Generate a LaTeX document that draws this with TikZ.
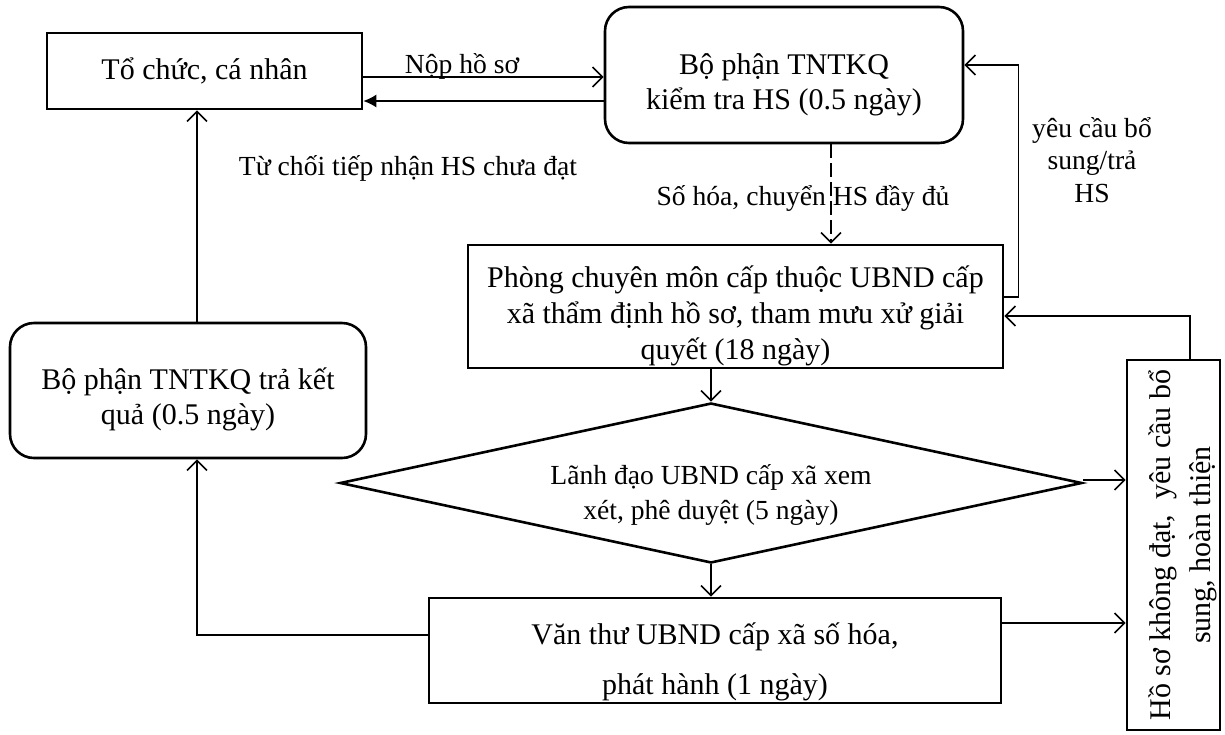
\documentclass[tikz,border=0pt]{standalone}
\usepackage{fontspec}
\setmainfont{Liberation Serif}
\usetikzlibrary{shapes.geometric,arrows.meta}
\begin{document}
\begin{tikzpicture}[x=0.5pt,y=-0.5pt,
  box/.style={draw, line width=1.3pt, inner sep=0pt},
  rbox/.style={box, rounded corners=12pt},
  txt/.style={align=center, inner sep=0pt, font=\fontsize{15}{17.5}\selectfont},
  lbl/.style={align=center, inner sep=0pt, font=\fontsize{13.8}{16.3}\selectfont},
  conn/.style={line width=0.8pt, -{Straight Barb[length=5pt,width=10pt]}},
  solidhead/.style={line width=0.8pt, -{Latex[length=6.5pt,width=6.5pt]}},
]
\useasboundingbox (0,0) rectangle (1225,734);

% --- process boxes ---
\node[box, minimum width=157.5pt, minimum height=38pt] (org) at (204.5,71) {};
\node[txt] (orgtext) at (org.center) {Tổ chức, cá nhân};

\node[rbox, minimum width=179pt, minimum height=68pt] (recv) at (784,75) {};
\node[txt] (recvtext) at ([yshift=-5pt]recv.center) {Bộ phận TNTKQ\\kiểm tra HS (0.5 ngày)};

\node[box, minimum width=267.5pt, minimum height=61.5pt] (dept) at (735.5,306.5) {};
\node[txt, font=\fontsize{15}{18}\selectfont] (depttext) at ([yshift=-4.75pt]dept.center)
  {Phòng chuyên môn cấp thuộc UBND cấp\\xã thẩm định hồ sơ, tham mưu xử giải\\quyết (18 ngày)};

\node[rbox, minimum width=178pt, minimum height=67.5pt] (ret) at (188,390.5) {};
\node[txt] (rettext) at ([yshift=-4.5pt]ret.center) {Bộ phận TNTKQ trả kết\\quả (0.5 ngày)};

\node[diamond, draw, line width=1.3pt, inner sep=0pt, minimum width=371pt, minimum height=80pt] (lead) at (711,483) {};
\node[lbl, font=\fontsize{13.8}{17.5}\selectfont] (leadtext) at ([yshift=-6pt]lead.center)
  {Lãnh đạo UBND cấp xã xem\\xét, phê duyệt (5 ngày)};

\node[box, minimum width=286pt, minimum height=52.5pt] (final) at (715,650.5) {};
\node[txt, font=\fontsize{15}{25}\selectfont] (finaltext) at ([yshift=-5.75pt]final.center)
  {Văn thư UBND cấp xã số hóa,\\phát hành (1 ngày)};

\node[box, minimum width=46.5pt, minimum height=185pt] (ebox) at (1173.5,545) {};
\node[txt, font=\fontsize{15}{20}\selectfont, rotate=90] (eboxtext) at ([xshift=4.75pt]ebox.center)
  {Hồ sơ không đạt,\ \ yêu cầu bổ\\sung, hoàn thiện};

% --- routing guides ---
\coordinate (vx) at (197,0);
\coordinate (dx) at (831,0);
\coordinate (ex) at (1190,0);

% --- connectors ---
\draw[conn] ([yshift=-3pt]org.east) -- ([yshift=-3pt]org.east -| recv.west);
\draw[solidhead] ([yshift=-13pt]recv.west) -- ([yshift=-13pt]recv.west -| org.east);
\draw[conn] (ret.north -| vx) -- (org.south -| vx);
\draw[conn, dash pattern=on 7pt off 2.5pt] (recv.south -| dx) -- (dept.north -| dx);
\draw[conn] ([yshift=4.75pt]dept.east) -- ++(7pt,0) |- ([yshift=5pt]recv.east);
\draw[conn] (ebox.north -| ex) |- ([yshift=-4.75pt]dept.east);
\draw[conn] (lead.north |- dept.south) -- (lead.north);
\draw[conn] ([yshift=1.5pt]lead.east) -- ([yshift=1.5pt]lead.east -| ebox.west);
\draw[conn] (lead.south) -- (lead.south |- final.north);
\draw[conn] ([yshift=13.75pt]final.east) -- ([yshift=13.75pt]final.east -| ebox.west);
\draw[conn] ([yshift=7.75pt]final.west) -| (ret.south -| vx);

% --- connector labels ---
\node[lbl] (lsubmit) at (462,66) {Nộp hồ sơ};
\node[lbl] (lreject) at (408,168) {Từ chối tiếp nhận HS chưa đạt};
\node[lbl] (ldigit) at (803,198) {Số hóa, chuyển HS đầy đủ};
\node[lbl] (lreturn) at (1092,160) {yêu cầu bổ\\sung/trả\\HS};
\end{tikzpicture}
\end{document}
